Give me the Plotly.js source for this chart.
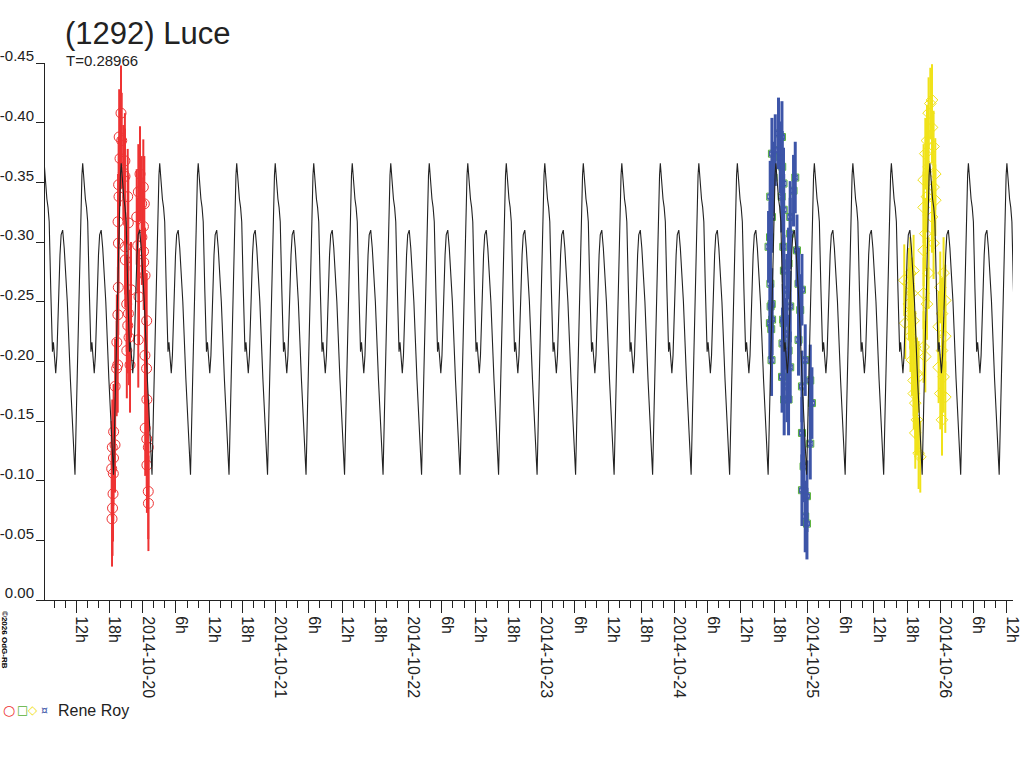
<!DOCTYPE html>
<html>
<head>
<meta charset="utf-8">
<script src="https://cdn.plot.ly/plotly-3.0.1.min.js"></script>
<style>html,body{margin:0;padding:0;background:#fff;}#chart{width:1024px;height:768px;}</style>
</head>
<body>
<div id="chart"></div>
<script>
// ---- Data (times in hours since 2014-10-19 00:00 UT, values in magnitudes) ----
const titleText = "(1292) Luce";
const periodLabel = "T=0.28966";
const observer = "Rene Roy";
const legendSymbols = ['○', '□', '◇', '¤'];
const PERIOD_DAYS = 0.28966;
const EPOCH_HOURS = 13.164;          // a model maximum
const X_START_HOURS = 6.36;
const X_END_HOURS = 181.11;

// model light-curve profile over one period (phase 0 = main maximum)
const modelPhase = [0, 0.02, 0.07, 0.10, 0.13, 0.17, 0.20, 0.215, 0.24, 0.30, 0.33, 0.365, 0.41, 0.44, 0.48, 0.52, 0.60, 0.68, 0.75, 0.80, 0.84, 0.90, 0.93, 0.98];
const modelMag   = [-0.366, -0.356, -0.336, -0.329, -0.317, -0.261, -0.216, -0.208, -0.216, -0.190, -0.205, -0.247, -0.289, -0.306, -0.310, -0.295, -0.250, -0.185, -0.135, -0.105, -0.163, -0.247, -0.303, -0.356];

// session 1 (red circles)
const s1Hours = [18.40,18.46,18.51,18.55,18.64,18.69,18.72,18.75,19.00,19.02,19.30,19.33,19.49,19.52,19.55,19.59,19.62,19.65,19.72,19.75,19.90,20.08,20.21,20.50,20.78,20.80,20.83,20.85,21.11,21.13,21.29,21.30,21.40,21.42,21.53,21.71,21.89,22.92,23.10,23.20,23.21,23.33,23.51,23.82,23.85,24.11,24.13,24.15,24.18,24.29,24.40,24.42,24.45,24.70,24.72,24.73,24.75,24.76,25.00,25.01,25.03];
const s1Mag = [-0.110,-0.068,-0.128,-0.077,-0.089,-0.106,-0.119,-0.141,-0.130,-0.179,-0.194,-0.216,-0.197,-0.239,-0.317,-0.262,-0.299,-0.348,-0.338,-0.388,-0.370,-0.408,-0.385,-0.358,-0.368,-0.355,-0.296,-0.285,-0.248,-0.209,-0.338,-0.230,-0.316,-0.240,-0.220,-0.197,-0.260,-0.321,-0.297,-0.218,-0.342,-0.254,-0.357,-0.332,-0.304,-0.346,-0.313,-0.292,-0.283,-0.332,-0.205,-0.272,-0.144,-0.194,-0.234,-0.135,-0.168,-0.113,-0.091,-0.128,-0.081];
const s1Err = 0.04;

// session 2 (blue / green squares)
const s2Hours = [136.98,137.22,137.25,137.28,137.31,137.35,137.46,137.52,137.55,137.59,137.59,137.62,137.88,138.19,138.78,139.09,139.35,139.40,139.42,139.45,139.50,139.62,139.65,139.68,139.70,139.72,139.75,139.80,139.99,140.30,140.30,140.59,140.59,140.59,140.89,140.89,140.89,140.89,141.49,141.80,142.11,142.39,142.39,142.70,143.01,143.01,143.01,143.01,143.30,143.60,143.60,143.91,143.91,144.51,144.51,144.81];
const s2Mag = [-0.296,-0.232,-0.304,-0.338,-0.265,-0.246,-0.227,-0.201,-0.248,-0.374,-0.321,-0.235,-0.354,-0.377,-0.391,-0.371,-0.338,-0.388,-0.187,-0.363,-0.215,-0.235,-0.296,-0.349,-0.232,-0.327,-0.276,-0.168,-0.223,-0.179,-0.260,-0.168,-0.209,-0.282,-0.195,-0.321,-0.307,-0.246,-0.343,-0.354,-0.293,-0.265,-0.218,-0.243,-0.260,-0.179,-0.140,-0.092,-0.112,-0.201,-0.070,-0.087,-0.064,-0.184,-0.131,-0.165];
const s2Err = 0.03;

// session 3 (yellow diamonds)
const s3Hours = [161.48,161.66,162.26,162.30,162.57,162.57,162.60,162.87,162.87,163.16,163.16,163.16,163.20,163.47,163.47,163.47,163.78,163.78,164.07,164.07,164.37,164.97,164.97,164.97,164.97,164.97,165.28,165.28,165.28,165.58,165.58,165.58,165.87,165.87,165.87,166.18,166.49,166.49,166.49,166.77,166.77,166.77,167.08,167.08,167.68,167.68,167.98,167.98,168.29,168.29,168.29,168.58,168.58,168.89,168.89,168.89];
const s3Mag = [-0.268,-0.232,-0.265,-0.248,-0.274,-0.240,-0.221,-0.257,-0.201,-0.276,-0.234,-0.184,-0.173,-0.212,-0.165,-0.140,-0.190,-0.151,-0.187,-0.123,-0.120,-0.352,-0.329,-0.293,-0.257,-0.212,-0.374,-0.307,-0.204,-0.385,-0.338,-0.248,-0.408,-0.363,-0.274,-0.416,-0.419,-0.396,-0.321,-0.380,-0.346,-0.299,-0.357,-0.335,-0.229,-0.195,-0.262,-0.173,-0.240,-0.209,-0.151,-0.274,-0.187,-0.251,-0.221,-0.170];
const s3Err = 0.03;

// axis ticks
const tickDays = ['2014-10-19','2014-10-20','2014-10-21','2014-10-22','2014-10-23','2014-10-24','2014-10-25','2014-10-26'];
const tickHours = [0, 6, 12, 18];
const hourLabels = ['', '6h', '12h', '18h'];
const yTickVals = [0, -0.05, -0.10, -0.15, -0.20, -0.25, -0.30, -0.35, -0.40, -0.45];
const yTickText = ['0.00','-0.05','-0.10','-0.15','-0.20','-0.25','-0.30','-0.35','-0.40','-0.45'];

// ---- build ----
const BASE = Date.UTC(2014, 9, 19);
const H = 3600 * 1000;
const toMs = h => BASE + h * H;

const modelX = [], modelY = [];
const periodH = PERIOD_DAYS * 24;
for (let n = -2; n <= 26; n++) {
  for (let k = 0; k < modelPhase.length; k++) {
    modelX.push(toMs(EPOCH_HOURS + (n + modelPhase[k]) * periodH));
    modelY.push(modelMag[k]);
  }
}

const xStart = toMs(X_START_HOURS), xEnd = toMs(X_END_HOURS);
const xTickVals = [], xTickText = [];
tickDays.forEach((d, i) => {
  tickHours.forEach((hh, j) => {
    const v = toMs(24 * i + hh);
    if (v >= xStart && v <= xEnd) {
      xTickVals.push(v);
      xTickText.push(hh === 0 ? d : hourLabels[j]);
    }
  });
});

const RED = '#ee3333', BLUE = '#3d55a8', GREEN = '#55b035', YELLOW = '#f0e21a', INK = '#222222';
const FONT = 'Liberation Sans, Arial, Helvetica, sans-serif';
const SYMFONT = 'DejaVu Sans, sans-serif';

const traces = [
  {
    x: s1Hours.map(toMs), y: s1Mag, type: 'scatter', mode: 'markers',
    marker: {symbol: 'circle-open', size: 10, color: RED, line: {width: 1, color: RED}},
    error_y: {type: 'constant', value: s1Err, color: RED, thickness: 2, width: 0},
    showlegend: false, hoverinfo: 'skip'
  },
  {
    x: s2Hours.map(toMs), y: s2Mag, type: 'scatter', mode: 'markers',
    marker: {symbol: 'square-open', size: 7, color: GREEN, line: {width: 1, color: GREEN}},
    showlegend: false, hoverinfo: 'skip'
  },
  {
    x: s2Hours.map(toMs), y: s2Mag, type: 'scatter', mode: 'markers',
    marker: {symbol: 'square-x-open', size: 5, color: BLUE, line: {width: 1, color: BLUE}},
    error_y: {type: 'constant', value: s2Err, color: BLUE, thickness: 3, width: 0},
    showlegend: false, hoverinfo: 'skip'
  },
  {
    x: s3Hours.map(toMs), y: s3Mag, type: 'scatter', mode: 'markers',
    marker: {symbol: 'diamond-open', size: 9, color: YELLOW, line: {width: 1, color: YELLOW}},
    error_y: {type: 'constant', value: s3Err, color: YELLOW, thickness: 2, width: 0},
    showlegend: false, hoverinfo: 'skip'
  },
  {
    x: modelX, y: modelY, type: 'scatter', mode: 'lines',
    line: {color: INK, width: 1.1}, showlegend: false, hoverinfo: 'skip'
  }
];

const plotL = 45, plotR = 1013, plotT = 63, plotB = 600;
const px = x => (x - plotL) / (plotR - plotL);
const py = y => (plotB - y) / (plotB - plotT);

const symColors = [RED, GREEN, YELLOW, BLUE];
const symCenters = [9, 22, 33, 44];
const symSizes = [14, 12, 12, 11];
const legendAnn = legendSymbols.map((s, i) => ({
  text: s, xref: 'paper', yref: 'paper', x: px(symCenters[i]), y: py(710),
  xanchor: 'center', yanchor: 'middle', showarrow: false, borderpad: 0,
  font: {family: SYMFONT, size: symSizes[i], color: symColors[i]}
}));

const layout = {
  width: 1024, height: 768,
  margin: {l: plotL, r: 1024 - plotR, t: plotT, b: 768 - plotB, pad: 0},
  paper_bgcolor: '#ffffff', plot_bgcolor: '#ffffff',
  font: {family: FONT, color: INK, size: 16},
  showlegend: false,
  title: {text: titleText, x: 65 / 1024, xanchor: 'left', xref: 'container',
          y: 1 - 33 / 768, yanchor: 'middle', yref: 'container',
          font: {family: FONT, size: 31, color: INK}},
  xaxis: {
    type: 'date', range: [xStart, xEnd], autorange: false,
    tickmode: 'array', tickvals: xTickVals, ticktext: xTickText,
    tickangle: 90, ticks: 'outside', ticklen: 12, tickwidth: 1, tickcolor: INK,
    ticklabelshift: 5, ticklabelstandoff: 0,
    minor: {tickmode: 'linear', tick0: toMs(0), dtick: 2 * H, ticks: 'outside', ticklen: 7, tickwidth: 1, tickcolor: INK, showgrid: false},
    showline: true, linecolor: INK, linewidth: 1,
    showgrid: false, zeroline: false,
    tickfont: {family: FONT, size: 16, color: INK}
  },
  yaxis: {
    range: [0, -0.45], autorange: false,
    tickmode: 'array', tickvals: yTickVals, ticktext: yTickText,
    ticks: 'outside', ticklen: 8, tickwidth: 1, tickcolor: INK,
    ticklabelshift: 7, ticklabelstandoff: -1,
    showline: true, linecolor: INK, linewidth: 1,
    showgrid: false, zeroline: false,
    tickfont: {family: FONT, size: 15, color: INK}
  },
  annotations: [
    {text: periodLabel, xref: 'paper', yref: 'paper', x: px(64), y: py(61),
     xanchor: 'left', yanchor: 'middle', showarrow: false,
     font: {family: FONT, size: 15, color: INK}},
    {text: '<b>©2026 OdG-RB</b>', xref: 'paper', yref: 'paper', x: px(5), y: py(640),
     xanchor: 'center', yanchor: 'middle', textangle: 90, showarrow: false,
     font: {family: FONT, size: 8, color: '#000000'}},
    {text: observer, xref: 'paper', yref: 'paper', x: px(56), y: py(710),
     xanchor: 'left', yanchor: 'middle', showarrow: false,
     font: {family: FONT, size: 16, color: INK}}
  ].concat(legendAnn)
};

Plotly.newPlot('chart', traces, layout, {staticPlot: true, displayModeBar: false});
</script>
</body>
</html>
